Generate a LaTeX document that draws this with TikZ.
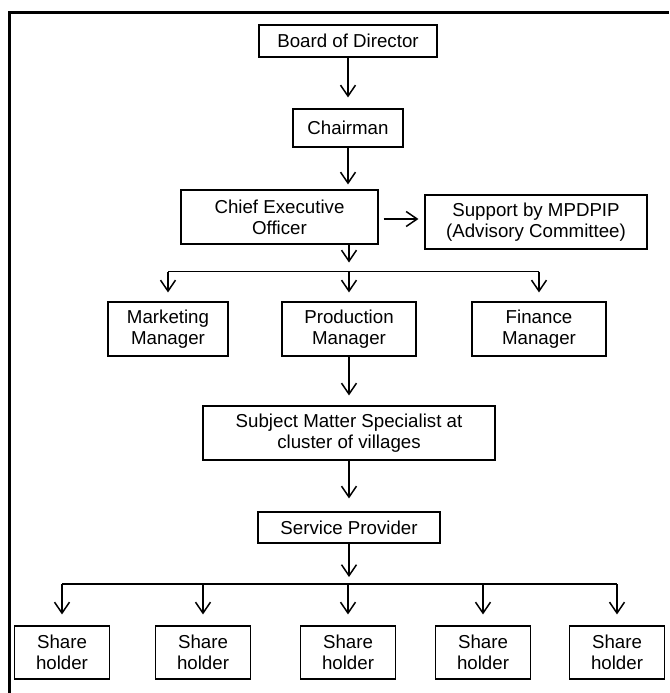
\documentclass[tikz,border=0pt]{standalone}
\usepackage{fontspec}
\setmainfont{Liberation Sans}
\usetikzlibrary{arrows.meta}
\tikzset{
  box/.style={draw, line width=1.1pt, align=center, inner sep=0pt},
  arr/.style={-{Straight Barb[length=11pt,width=15pt]}, line width=1.5pt},
  bus/.style={line width=1.5pt}
}
\begin{document}
\begin{tikzpicture}[x=1pt, y=-1pt, font=\fontsize{18.7}{21}\selectfont]
        \useasboundingbox (0,0) rectangle (669,693);
        % outer frame, only top and left are shown
        \draw [line width=3pt] (9,693) -- (9,12.5) -- (669,12.5);
        % top of the chart
        \node (board) [box, minimum width=178pt, minimum height=32pt] at (348,41) {Board of Director};
        \node (chair) [box, minimum width=110pt, minimum height=38pt] at (348,128) {Chairman};
        \node (ceo) [box, minimum width=197pt, minimum height=54pt] at (279.5,217) {Chief Executive\\Officer};
        \node (support) [box, minimum width=222pt, minimum height=54pt] at (536,222) {Support by MPDPIP\\(Advisory Committee)};
        \draw [arr, shorten >=11pt] (board) -- (chair);
        \draw [arr, shorten >=5pt] (chair.south) -- (chair.south |- ceo.north);
        \draw [arr, shorten <=5pt, shorten >=6pt] ([yshift=-2pt]ceo.east) -- ([yshift=-2pt]ceo.east -| support.west);
        % managers
        \node (mkt) [box, minimum width=120pt, minimum height=54pt] at (168,329) {Marketing\\Manager};
        \node (prod) [box, minimum width=134pt, minimum height=54pt] at (349,329) {Production\\Manager};
        \node (fin) [box, minimum width=134pt, minimum height=54pt] at (539,329) {Finance\\Manager};
        \coordinate (bus1) at (349,271.5);
        \draw [arr, shorten >=9pt] (ceo.south -| bus1) -- (bus1);
        \draw [bus] (mkt.north |- bus1) -- (fin.north |- bus1);
        \foreach \m in {mkt,prod,fin}
            \draw [arr, shorten >=9pt] (\m.north |- bus1) -- (\m.north);
        % field level
        \node (sms) [box, minimum width=292pt, minimum height=54pt] at (349,433) {Subject Matter Specialist at\\cluster of villages};
        \node (sp) [box, minimum width=182pt, minimum height=31pt] at (349,527.5) {Service Provider};
        \draw [arr, shorten >=10pt] (prod) -- (sms);
        \draw [arr, shorten >=13pt] (sms) -- (sp);
        % share holders
        \foreach \i/\x in {1/62,2/203,3/348,4/483,5/617}
            \node (sh\i) [box, minimum width=95pt, minimum height=53pt] at (\x,652.5) {Share\\holder};
        \coordinate (bus2) at (348,584);
        \draw [arr, shorten >=7pt] (sp.south) -- (sp.south |- bus2);
        \draw [bus] (sh1.north |- bus2) -- (sh5.north |- bus2);
        \foreach \i in {1,...,5}
            \draw [arr, shorten >=11pt] (sh\i.north |- bus2) -- (sh\i.north);
    \end{tikzpicture}
\end{document}
